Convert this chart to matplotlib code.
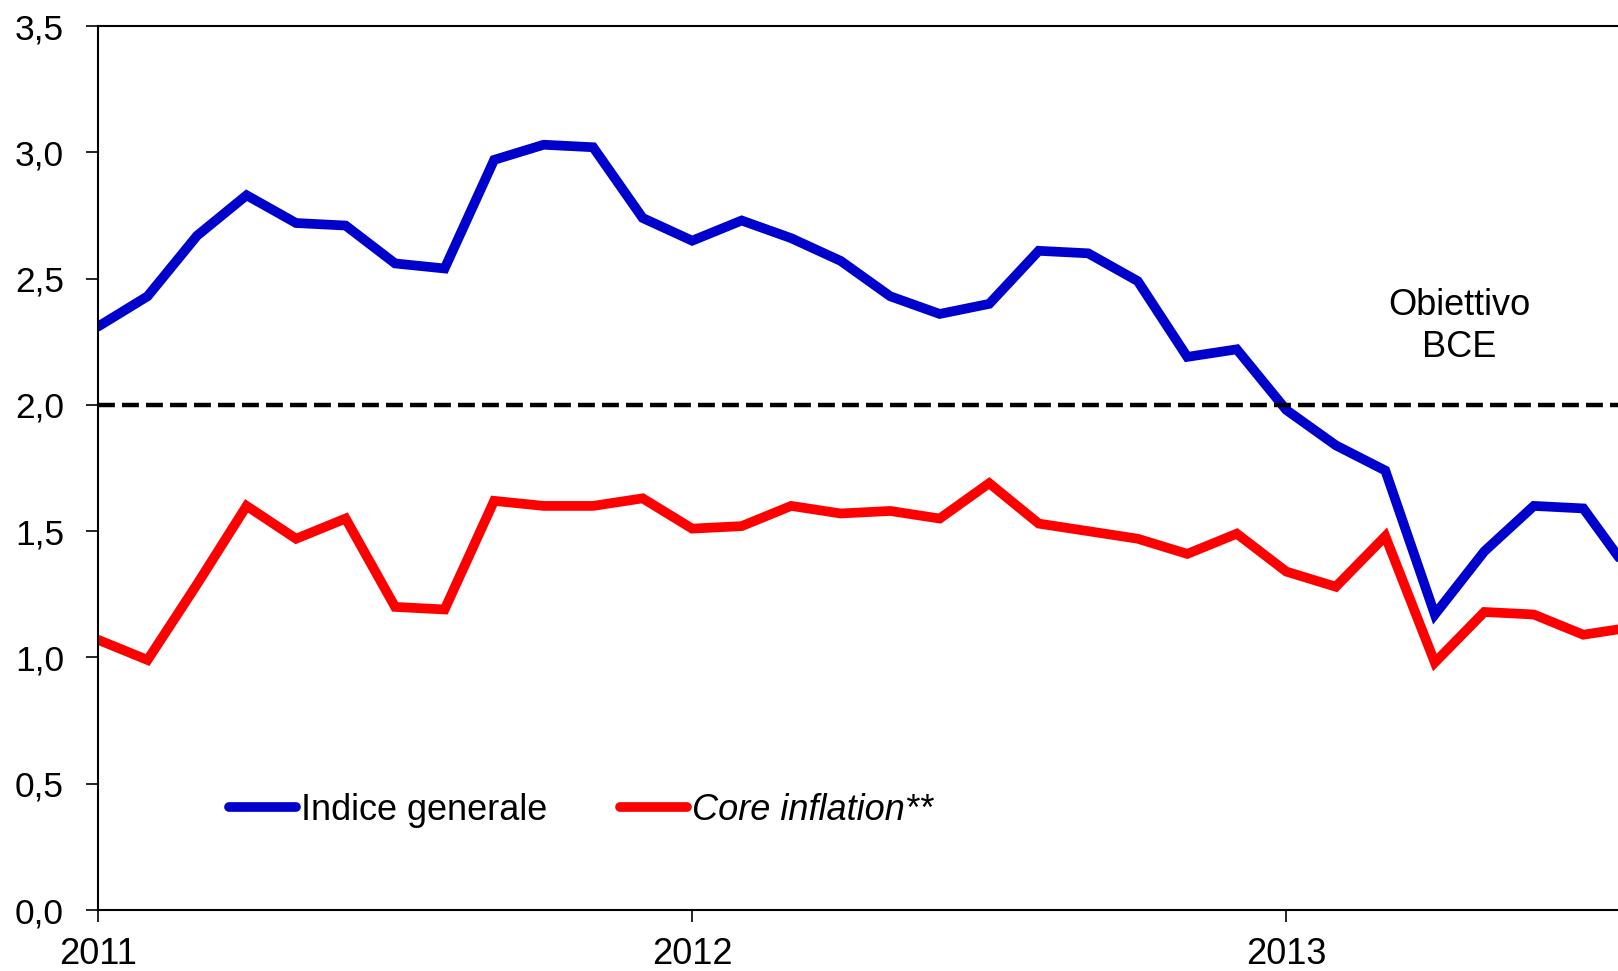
import matplotlib
matplotlib.use("Agg")
import matplotlib.pyplot as plt
import numpy as np

plt.rcParams["font.family"] = ["Liberation Sans", "DejaVu Sans"]

# mesi da gennaio 2011 (0) ad agosto 2013 (31)
months = np.arange(32)
year_ticks = [0, 12, 24]
year_labels = ["2011", "2012", "2013"]

indice_generale = [2.31, 2.43, 2.67, 2.83, 2.72, 2.71, 2.56, 2.54, 2.97, 3.03, 3.02, 2.74,
                   2.65, 2.73, 2.66, 2.57, 2.43, 2.36, 2.40, 2.61, 2.60, 2.49, 2.19, 2.22,
                   1.98, 1.84, 1.74, 1.17, 1.42, 1.60, 1.59, 1.32]
core_inflation = [1.07, 0.99, 1.29, 1.60, 1.47, 1.55, 1.20, 1.19, 1.62, 1.60, 1.60, 1.63,
                  1.51, 1.52, 1.60, 1.57, 1.58, 1.55, 1.69, 1.53, 1.50, 1.47, 1.41, 1.49,
                  1.34, 1.28, 1.48, 0.98, 1.18, 1.17, 1.09, 1.12]
obiettivo_bce = 2.0

fig = plt.figure(figsize=(16.18, 9.71), dpi=100)
ax = fig.add_axes([0.0606, 0.0628, 0.9394, 0.9104])

ax.plot(months, indice_generale, color="#0000CC", lw=7, solid_capstyle="round",
        solid_joinstyle="miter", label="Indice generale")
ax.plot(months, core_inflation, color="#FF0000", lw=7, solid_capstyle="round",
        solid_joinstyle="miter", label="Core inflation**")
ax.axhline(obiettivo_bce, color="black", lw=3.2, dashes=(3.8, 1.6))

ax.text(27.5, 2.31, "Obiettivo\nBCE", ha="center", va="center", fontsize=26,
        linespacing=1.25)

ax.set_xlim(0, 30.7)
ax.set_ylim(0, 3.5)
ax.set_yticks(np.arange(0, 3.51, 0.5))
ax.set_yticklabels([f"{v:.1f}".replace(".", ",") for v in np.arange(0, 3.51, 0.5)])
ax.set_xticks(year_ticks)
ax.set_xticklabels(year_labels)

ax.spines["right"].set_visible(False)
for s in ["left", "bottom", "top"]:
    ax.spines[s].set_linewidth(1.5)
ax.tick_params(axis="both", direction="out", length=8.5, width=1.2)
ax.tick_params(axis="y", pad=16, labelsize=25.5)
ax.tick_params(axis="x", pad=11, labelsize=26)

leg = ax.legend(loc="center left", bbox_to_anchor=(0.0862, 0.113), ncol=2,
                frameon=False, fontsize=26, handlelength=1.85, handletextpad=0.15,
                columnspacing=2.0, borderpad=0, borderaxespad=0)
leg.get_texts()[1].set_style("italic")

fig.savefig("out.png", dpi=100)
